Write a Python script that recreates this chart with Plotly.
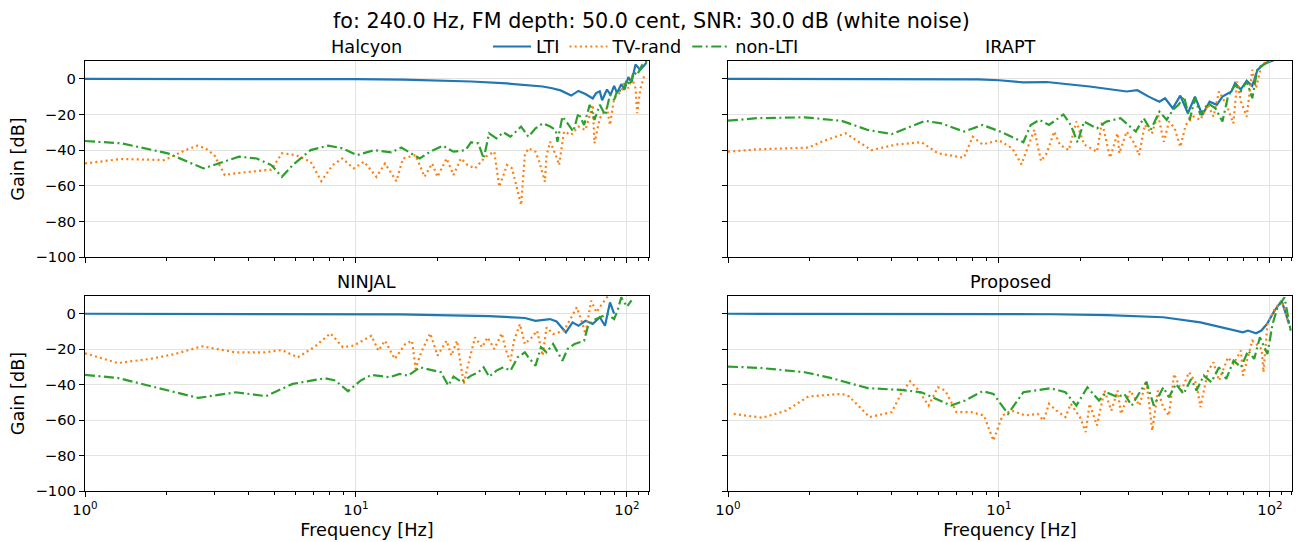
import plotly.graph_objects as go

TITLE = "fo: 240.0 Hz, FM depth: 50.0 cent, SNR: 30.0 dB (white noise)"
panels = ["Halcyon", "IRAPT", "NINJAL", "Proposed"]
series_names = ["LTI", "TV-rand", "non-LTI"]
x_ticks = [1, 10, 100]
x_ticktext = ["10<sup>0</sup>", "10<sup>1</sup>", "10<sup>2</sup>"]
y_ticks = [0, -20, -40, -60, -80, -100]

# ---------------- Halcyon ----------------
halcyon_lti_f = [1, 2, 5, 10, 15, 20, 26.6, 36.1, 44, 48.9, 53, 56.9, 62.3, 66.2, 70.3, 74.8, 77,
                 79.4, 81, 84.4, 87, 89.7, 92, 95.3, 98, 101.2, 104, 107.6, 112, 118]
halcyon_lti_db = [0, 0, -0.1, -0.2, -0.5, -0.9, -1.5, -2.6, -3.6, -4.3, -5.3, -6.5, -9.4, -6.8, -8.5,
                  -11, -8, -7, -12, -6, -9, -4, -8, -3, -6, 1, -2, 8, 5, 9]

halcyon_tv_f = [1, 1.36, 1.96, 2.08, 2.35, 2.6, 2.78, 3.0, 3.28, 3.6, 4.3, 4.87, 5.33, 6.0, 6.8, 7.45,
                8.2, 8.9, 9.8, 10.7, 11.9, 12.8, 14.1, 14.9, 16.6, 17.9, 19.1, 20, 21.6, 22.9, 24.4,
                25.8, 27.5, 30.1, 32.4, 33.8, 36.1, 37.7, 40.7, 42, 43.3, 46, 47.5, 49.8, 50.5, 52.1,
                54.6, 56.2, 58.6, 62.3, 66.2, 70.3, 74.8, 75.9, 79.4, 84.4, 86.6, 89.7, 95.3, 98.2,
                101.2, 104.3, 107.6, 109.1, 112, 116]
halcyon_tv_db = [-47.5, -45, -45.6, -43.7, -40, -37.5, -39, -42.8, -54, -53, -51.8, -51, -41.8, -42.8,
                 -46.5, -57.4, -48.4, -44.7, -50.3, -46.5, -55, -47.5, -57.4, -44.7, -42.8, -55, -47.5,
                 -55, -44.7, -54, -44.7, -48.4, -50.3, -43.7, -40.9, -60.6, -48.4, -50.3, -70.9,
                 -42.8, -39, -40.9, -46.5, -57.8, -42.8, -35.3, -42.8, -48.4, -29.6, -31.5, -26.8,
                 -28.7, -14.6, -36.2, -22.1, -16.5, -25.9, -10.9, -7.1, -1.5, -5.3, 0.4, -5.3,
                 -19.3, -6, 2]

halcyon_nl_f = [1, 1.36, 2.02, 2.74, 3.7, 4.3, 4.87, 5.33, 5.84, 6.8, 7.9, 8.9, 10.1, 11.7, 13.5, 14.7,
                17.2, 18.8, 20.9, 22.9, 25.4, 26.6, 28.3, 29.6, 31, 33, 35, 37.2, 40.7, 43.3, 46,
                48.9, 52.1, 54.6, 55.4, 57.8, 60.4, 63.4, 66.2, 69.5, 72.9, 75.9, 79.4, 83.2, 86.6,
                89.7, 92.3, 96.8, 99.7, 102.7, 105.9, 109, 114, 119]
halcyon_nl_db = [-34.9, -36.2, -41.8, -50.3, -43.7, -44.7, -48.4, -55, -48.4, -40, -37.5, -39, -42.8,
                 -40, -41.3, -38.6, -44.7, -40.9, -37.5, -40.9, -40, -35.6, -36.2, -44.7, -30.6,
                 -33.4, -30, -32.5, -26.8, -32.5, -27.8, -25, -26.8, -28.7, -35.3, -21.2, -25, -29.6,
                 -19.3, -25.9, -14.6, -23, -14.6, -20.3, -9, -11.8, -6.2, -7.1, -0.6, -3.4, 4.1, 2,
                 8, 10]

# ---------------- IRAPT ----------------
irapt_lti_f = [1, 2, 5, 8.4, 10, 12.3, 15, 21.6, 29.6, 32.4, 35.7, 39.1, 41, 43.8, 46.7, 49.8, 52.9,
               56.3, 59.9, 63.7, 66.8, 72.1, 74.4, 78, 82.1, 86, 90, 95.9, 100.4, 110]
irapt_lti_db = [0, 0, -0.1, -0.3, -0.8, -2, -1.8, -4.3, -7.1, -6.4, -10, -12.8, -10.9, -16.5, -9.4,
                -19.3, -10, -20.3, -12.8, -14.6, -10, -7.1, -2.4, -6, -1.1, -4, 5, 8.8, 9.8, 12]

irapt_tv_f = [1, 1.28, 1.98, 2.25, 2.72, 3.38, 4.21, 5.18, 5.95, 7.42, 8.0, 8.7, 10, 11.2, 12.1, 13.5,
              14.3, 15, 16, 16.8, 18.1, 19.3, 20.6, 23, 24, 25.7, 27.4, 27.8, 29.6, 31.6, 32.9,
              34.5, 36.7, 38.6, 40.6, 42.4, 44.5, 46.7, 48.9, 52.2, 55.4, 59.1, 61.9, 64.9, 69.1,
              73.3, 75.7, 78.2, 82.1, 86.1, 88.9, 93.2, 97.9, 104, 112]
irapt_tv_db = [-40.9, -39.6, -38.6, -34.9, -30.6, -40, -36.8, -35.6, -41.8, -44.3, -32.5, -36.8,
               -34.5, -39, -48, -28.7, -46.2, -41.8, -29.6, -37.1, -40, -24, -36.8, -40.9, -24,
               -44.3, -30.6, -41.8, -29.6, -36.2, -42.8, -25.9, -30.6, -20, -35.3, -24, -27.8,
               -38.2, -25.9, -21.2, -23, -14.6, -21.2, -7.1, -14.6, -25, -1.5, -12.8, -21.2, 5.1,
               -5.3, 7.9, 9.8, 11, 12]

irapt_nl_f = [1, 1.28, 1.92, 2.63, 3.28, 4.02, 5.33, 6.13, 7.42, 8.7, 10.1, 12.3, 13.1, 14.1, 15.3,
              17.3, 18.4, 19.5, 20.6, 23, 24.9, 28.1, 30, 32, 34.2, 36.3, 39.1, 41.6, 43.8, 46,
              48.2, 50.6, 52.9, 55.4, 59.1, 62.9, 66.8, 70, 74.4, 78.2, 82.1, 86.1, 90, 94.4,
              100.4, 110]
irapt_nl_db = [-23.5, -22.1, -21.6, -23.6, -28.7, -31, -23.6, -25, -29.6, -25.9, -29.6, -35.6,
               -25.9, -23, -25.9, -20, -25.9, -35.6, -24, -27.8, -24, -22.1, -25.9, -29.6, -22.1,
               -28.7, -18.4, -23, -17.5, -14.6, -10, -23, -10.9, -20.3, -13.7, -16.5, -24, -10,
               -3.4, -6.9, -1.5, -10.9, 6, 7.9, 10, 12]

# ---------------- NINJAL ----------------
ninjal_lti_f = [1, 2, 5, 10, 14.5, 20, 31, 42, 46, 52, 55, 59.5, 63, 66.2, 70.3, 74.8, 79.4, 83,
                86.6, 89.7]
ninjal_lti_db = [0, 0, 0, -0.2, -0.4, -0.8, -1.3, -2.4, -4, -3, -4.4, -10.5, -4.9, -6.8, -4, -5.8,
                 -2, -6.8, 6.4, 0]

ninjal_tv_f = [1.0, 1.32, 1.74, 2.15, 2.7, 3.6, 4.58, 5.33, 6.1, 7, 8.05, 8.95, 9.8, 11.4, 12.1, 12.8,
               13.9, 15.2, 16.1, 16.6, 17.4, 18.8, 20, 21.6, 22.5, 23.6, 25, 25.8, 27.5, 29.2, 30.6,
               32.4, 34.5, 36.1, 37.2, 38.3, 40.3, 42, 44.6, 46.6, 48.9, 50.5, 53.4, 58.6, 62.3,
               65.3, 68.6, 70.3, 73.8, 77.2, 80.8, 84.4, 90]
ninjal_tv_db = [-22.3, -27.8, -25.5, -22.7, -18.4, -21.8, -21.8, -20.5, -24.6, -18.9, -11.1, -18.9,
                -18, -12.4, -20.8, -15.2, -25.5, -17.1, -15.2, -31.1, -21.8, -11.1, -23.6, -15.2,
                -23.6, -15.2, -39.6, -30.2, -13.3, -18.9, -13.3, -19.9, -11.1, -22.7, -26.5, -15.2,
                -5.8, -17.1, -13.3, -9.6, -23.6, -7.7, -11.4, -9.6, -2.1, 3.6, -5.8, -11.4, 7.3,
                0.8, 5.4, 9.2, 12]

ninjal_nl_f = [1, 1.32, 1.85, 2.62, 3.6, 4.66, 5.84, 7.67, 8.4, 9.35, 10.4, 11.4, 13.3, 14.5, 15.6,
               17.2, 19.4, 20.6, 21.9, 22.9, 24.6, 26.6, 28.3, 29.6, 31, 33, 35, 37.2, 39.5, 42,
               43.3, 46, 48.2, 50.5, 53.4, 57.8, 60.4, 64.1, 69.5, 71.6, 74.8, 79.4, 84.4, 89.7,
               92.3, 95.3, 100, 104]
ninjal_nl_db = [-34.5, -36.2, -41.8, -47.5, -44.3, -46.5, -39.6, -36.4, -37.7, -43.7, -37.7, -34.5,
                -35.8, -34, -34.9, -30.2, -32.1, -33, -40.5, -35.5, -38.6, -34.9, -33, -30.2, -35.5,
                -32.1, -30.2, -32.1, -24.6, -21.8, -24.6, -29.3, -18.9, -21.8, -17.1, -26.5, -19.9,
                -17.1, -15.2, -7.7, -3.9, -2.1, -0.2, -3, 1.7, 9.2, 4, 7.5]

# ---------------- Proposed ----------------
proposed_lti_f = [1, 2, 5, 10, 15.7, 25.2, 40.4, 55.4, 71.3, 79.5, 83, 88.9, 93, 97.5, 104, 110.5, 117.6]
proposed_lti_db = [0, 0, 0, -0.1, -0.3, -0.8, -2, -4.9, -8.6, -10.5, -9.5, -11, -9.5, -5.8, 1.7, 7.3, -5.8]

proposed_tv_f = [1.05, 1.34, 1.64, 1.98, 2.63, 2.8, 3.33, 4.02, 4.35, 4.7, 5, 5.5, 5.95, 6.33, 6.97,
                 7.9, 8.8, 9.54, 10.3, 11.1, 12.5, 13.9, 14.6, 15.3, 16.3, 17.6, 18.4, 19.9, 20.9,
                 21.6, 23, 24.5, 26, 27.4, 28.2, 30.5, 33, 35, 36.8, 38.6, 40.4, 42.4, 44.3, 47.1,
                 50.3, 53.6, 55.4, 59.1, 61.9, 64.9, 70, 73.4, 78.2, 79.5, 86.1, 93.2, 94.7, 97.9,
                 104, 110.5, 117.6]
proposed_tv_db = [-56.5, -58.7, -54.6, -46.7, -45.2, -46.7, -58.3, -55.5, -45.2, -38.1, -42.4, -51.8,
                  -41.5, -43.3, -55.5, -55.5, -57.4, -71.5, -57.4, -54.6, -57.4, -56.5, -60.2, -50.8,
                  -54.6, -58.3, -50.8, -58.3, -66.8, -50.8, -63, -43.3, -54.6, -43.3, -56.5, -43.3,
                  -51.8, -37.7, -65.9, -43.3, -52.7, -57.4, -34, -43.3, -33, -39.6, -52.7, -32.1,
                  -27.4, -37.7, -24.6, -28.3, -20.8, -34.9, -15.2, -19.9, -33, -5.8, 2.6, 7.3, -5.8]

proposed_nl_f = [1, 1.32, 1.92, 2.39, 3.28, 4.35, 5.17, 6.65, 7.5, 8.7, 9.54, 10.8, 12.3, 13.9, 15.5,
                 17.6, 19.3, 21.2, 23.4, 24.9, 27.4, 29, 30.9, 33.4, 35, 37.3, 40.4, 42.4, 45, 48,
                 51.2, 53.6, 57, 60.8, 64.9, 69, 73.4, 78.2, 83.2, 87.5, 91.8, 97.9, 102.3, 106.7,
                 113.2, 119.3]
proposed_nl_db = [-29.8, -30.6, -33, -36.2, -42, -43, -44.3, -51.8, -49, -43.7, -45.2, -56.5, -44.3,
                  -43.3, -42, -44.3, -51.8, -41.5, -49, -44.3, -47.1, -45.2, -51.8, -43.3, -38.6,
                  -51.8, -41.5, -47.1, -39.6, -45.2, -36.8, -43.3, -34.9, -38.6, -30.2, -36.8, -26.5,
                  -30.2, -20.8, -25.5, -13.3, -22.7, -5.8, 3.6, 9.2, -9.6]

panel_data = [
    [(halcyon_lti_f, halcyon_lti_db), (halcyon_tv_f, halcyon_tv_db), (halcyon_nl_f, halcyon_nl_db)],
    [(irapt_lti_f, irapt_lti_db), (irapt_tv_f, irapt_tv_db), (irapt_nl_f, irapt_nl_db)],
    [(ninjal_lti_f, ninjal_lti_db), (ninjal_tv_f, ninjal_tv_db), (ninjal_nl_f, ninjal_nl_db)],
    [(proposed_lti_f, proposed_lti_db), (proposed_tv_f, proposed_tv_db), (proposed_nl_f, proposed_nl_db)],
]

colors = ["#1f77b4", "#ff7f0e", "#2ca02c"]
dashes = ["solid", "2px,3.2px", "10px,3.5px,2px,3.5px"]

W, H = 1303, 542
OFF = 8  # page body margin compensation
FONT = "DejaVu Sans"
LABEL = 17.7
TICK = 14.75


def px_x(x):
    return (x - OFF) / W


def px_y(y):
    return 1 - (y - OFF) / H


# panel pixel boxes in the final screenshot (left, right, top, bottom)
boxes = [(85, 649, 61, 257), (728, 1292, 61, 257), (85, 649, 296, 491), (728, 1292, 296, 491)]

fig = go.Figure()
layout = dict(
    width=W, height=H, margin=dict(l=0, r=0, t=0, b=0, autoexpand=False),
    paper_bgcolor="white", plot_bgcolor="white",
    font=dict(family=FONT, color="black", size=TICK),
    showlegend=True,
)

minor_vals = [v * d for d in (1, 10) for v in range(2, 10)] + [110, 120]

for i, (name, box) in enumerate(zip(panels, boxes)):
    l, r, t, b = box
    xa = "xaxis" if i == 0 else f"xaxis{i+1}"
    ya = "yaxis" if i == 0 else f"yaxis{i+1}"
    xref = "x" if i == 0 else f"x{i+1}"
    yref = "y" if i == 0 else f"y{i+1}"
    bottom_row = i >= 2
    left_col = i % 2 == 0
    layout[xa] = dict(
        domain=[px_x(l), px_x(r)], anchor=yref, type="log", automargin=False,
        range=[0, 2.0815],
        tickmode="array", tickvals=x_ticks, ticktext=x_ticktext,
        showticklabels=bottom_row, ticks="outside", ticklen=5, tickwidth=1, tickcolor="black",
        showgrid=True, gridcolor="#e3e3e3", gridwidth=1,
        showline=True, linecolor="black", linewidth=1.2, mirror=True,
        zeroline=False,
        minor=dict(tickmode="array", tickvals=minor_vals, ticks="outside", ticklen=3,
                   tickwidth=0.8, tickcolor="black", showgrid=False),
        tickfont=dict(size=TICK),
        title=dict(text="Frequency [Hz]" if bottom_row else "", font=dict(size=LABEL), standoff=6),
    )
    layout[ya] = dict(
        domain=[px_y(b), px_y(t)], anchor=xref, automargin=False,
        range=[-100, 10],
        tickmode="array", tickvals=y_ticks,
        showticklabels=left_col, ticks="outside", ticklen=5, tickwidth=1, tickcolor="black",
        showgrid=True, gridcolor="#e3e3e3", gridwidth=1,
        showline=True, linecolor="black", linewidth=1.2, mirror=True,
        zeroline=False,
        tickfont=dict(size=TICK),
        title=dict(text="Gain [dB]" if left_col else "", font=dict(size=LABEL), standoff=10),
    )
    for j, (f, db) in enumerate(panel_data[i]):
        fig.add_trace(go.Scatter(
            x=f, y=db, mode="lines", name=series_names[j],
            line=dict(color=colors[j], width=2.2, dash=dashes[j]),
            xaxis=xref, yaxis=yref, legendgroup=series_names[j], showlegend=(i == 0),
        ))

annotations = [
    dict(text=TITLE, x=px_x(651.5), y=1.0, xref="paper", yref="paper", showarrow=False,
         font=dict(size=20.7, family=FONT), xanchor="center", yanchor="top", borderpad=0),
]
for name, box in zip(panels, boxes):
    l, r, t, b = box
    annotations.append(dict(text=name, x=px_x((l + r) / 2), y=px_y(t - 14), xref="paper", yref="paper",
                            showarrow=False, font=dict(size=LABEL, family=FONT),
                            xanchor="center", yanchor="middle"))
layout["annotations"] = annotations
layout["legend"] = dict(orientation="h", x=px_x(646), y=px_y(47), xanchor="center", yanchor="middle",
                        font=dict(size=LABEL, family=FONT), bgcolor="rgba(0,0,0,0)",
                        itemwidth=38, tracegroupgap=0, traceorder="normal")

fig.update_layout(**layout)
fig.write_html("out.html")
